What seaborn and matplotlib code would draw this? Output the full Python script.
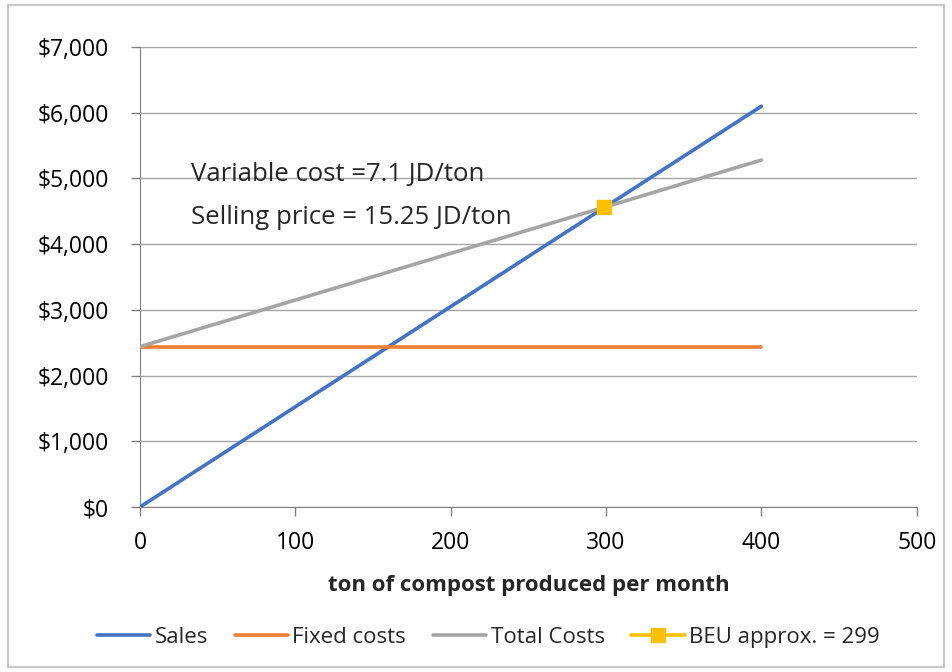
import matplotlib
matplotlib.use("Agg")
import matplotlib.pyplot as plt
import matplotlib.ticker as mticker
from matplotlib.patches import Rectangle
import seaborn as sns
import pandas as pd

# chart data
tons = [0, 400]
sales = [0, 6100]
fixed_costs = [2440, 2440]
total_costs = [2440, 5280]
beu_ton = [299]
beu_value = [4560]

series_names = ["Sales", "Fixed costs", "Total Costs"]
series_colors = ["#4472C4", "#ED7D31", "#A5A5A5"]

df = pd.DataFrame({
    "tons": tons * 3,
    "value": sales + fixed_costs + total_costs,
    "series": [s for s in series_names for _ in tons],
})

sns.set_style("white")
plt.rcParams["font.family"] = ["Open Sans", "DejaVu Sans"]

fig = plt.figure(figsize=(9.52, 6.72), dpi=100)
ax = fig.add_axes([0.147, 0.2455, 0.816, 0.6845])

sns.lineplot(data=df, x="tons", y="value", hue="series",
             palette=dict(zip(series_names, series_colors)),
             linewidth=2.6, ax=ax, legend=False, zorder=3)
ax.plot(beu_ton, beu_value, marker="s", markersize=10, color="#FFC000",
        linestyle="-", linewidth=2.6, zorder=4, label="BEU approx. = 299")

ax.set_xlim(0, 500)
ax.set_ylim(0, 7000)
ax.set_xticks(range(0, 501, 100))
ax.set_yticks(range(0, 7001, 1000))
ax.yaxis.set_major_formatter(mticker.FuncFormatter(lambda v, p: f"${v:,.0f}"))
ax.tick_params(axis="both", labelsize=16.5, colors="#808080", labelcolor="black",
               length=6.5, direction="out", width=1, bottom=True, left=True)
ax.tick_params(axis="y", pad=16)
ax.tick_params(axis="x", pad=11)
ax.grid(axis="y", color="#A6A6A6", linewidth=1)
ax.set_axisbelow(True)
for side in ["top", "right"]:
    ax.spines[side].set_visible(False)
for side in ["left", "bottom"]:
    ax.spines[side].set_color("#808080")
ax.set_xlabel("ton of compost produced per month", fontsize=16,
              fontweight="bold", labelpad=14)
ax.set_ylabel("")

ax.text(33, 5060, "Variable cost =7.1 JD/ton", fontsize=18.5, va="center")
ax.text(33, 4400, "Selling price = 15.25 JD/ton", fontsize=18.5, va="center")

handles = [plt.Line2D([], [], color=c, linewidth=2.6) for c in series_colors]
handles.append(plt.Line2D([], [], color="#FFC000", linewidth=2.6,
                          marker="s", markersize=10))
fig.legend(handles, series_names + ["BEU approx. = 299"], loc="center",
           bbox_to_anchor=(0.513, 0.052), ncol=4, frameon=False, fontsize=16,
           handlelength=2.4, handletextpad=0.2, columnspacing=1.2)

fig.patches.append(Rectangle((0.008, 0.008), 0.984, 0.984, transform=fig.transFigure,
                             fill=False, edgecolor="#BFBFBF", linewidth=1.2))

fig.savefig("out.png", dpi=100)
